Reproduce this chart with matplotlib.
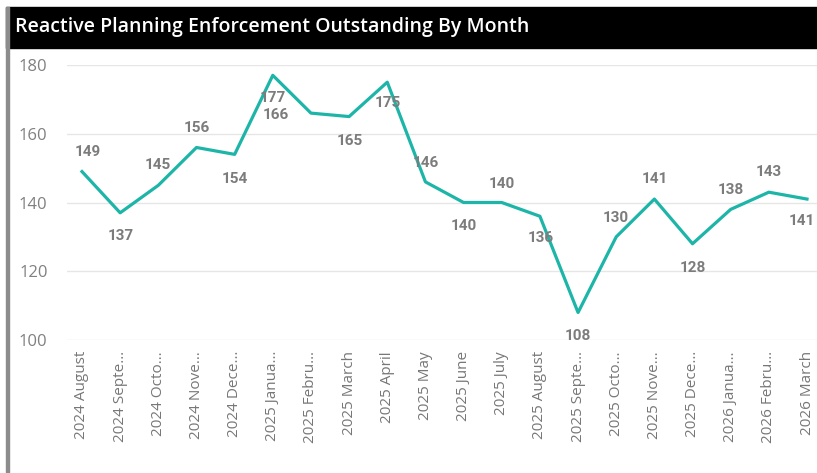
import matplotlib.pyplot as plt
from matplotlib.patches import Rectangle

W, H = 817, 473

months = [
    "2024 August", "2024 Septe…", "2024 Octo…", "2024 Nove…", "2024 Dece…",
    "2025 Janua…", "2025 Febru…", "2025 March", "2025 April", "2025 May",
    "2025 June", "2025 July", "2025 August", "2025 Septe…", "2025 Octo…",
    "2025 Nove…", "2025 Dece…", "2026 Janua…", "2026 Febru…", "2026 March",
]
outstanding = [149, 137, 145, 156, 154, 177, 166, 165, 175, 146,
               140, 140, 136, 108, 130, 141, 128, 138, 143, 141]
y_ticks = [100, 120, 140, 160, 180]

# data label offsets in pixels (dx, dy), dy positive = up
label_offsets = [
    (6, 20), (1, -23), (-1, 20), (0, 20), (0, -25),
    (0, -23), (-35, -2), (1, -24), (1, -21), (0, 19),
    (0, -23), (0, 19), (1, -22), (0, -23), (0, 19),
    (0, 20), (0, -24), (0, 19), (0, 20), (-5, -22),
]

TEAL = "#1db5a8"
GREY = "#7c7c7c"

fig = plt.figure(figsize=(W / 100, H / 100), dpi=100)
fig.patch.set_facecolor("white")

# title bar and left border
fig.patches.append(Rectangle((6 / W, 1 - 48 / H), 1 - 6 / W, 41 / H,
                             transform=fig.transFigure, color="black", zorder=0))
fig.patches.append(Rectangle((6 / W, 0), 2.5 / W, 1 - 7 / H,
                             transform=fig.transFigure, color="#8c8c8c", zorder=0))
fig.text(15 / W, 1 - 27 / H, "Reactive Planning Enforcement Outstanding By Month",
         color="white", fontsize=14, fontweight="semibold", family="Open Sans",
         va="center", ha="left")

ax = fig.add_axes([67 / W, (H - 340) / H, 750 / W, 275 / H])
x = list(range(len(outstanding)))
step = 38.16
ax.set_xlim(-15 / step, len(x) - 1 + 10 / step)
ax.set_ylim(100, 180)

ax.plot(x, outstanding, color=TEAL, linewidth=2.3, clip_on=False, zorder=3)

for xi, val, (dx, dy) in zip(x, outstanding, label_offsets):
    ax.annotate(str(val), (xi, val), xytext=(dx, dy), textcoords="offset pixels",
                ha="center", va="center", fontsize=11, fontweight="bold",
                color=GREY, family="Roboto", zorder=4)

ax.set_yticks(y_ticks)
ax.set_xticks(x)
ax.set_xticklabels(months, rotation=90, va="top", ha="center")
ax.grid(axis="y", color="#e6e6e6", linewidth=1)
ax.set_axisbelow(True)
ax.tick_params(axis="y", length=0, pad=14, labelsize=12, labelcolor="#808080")
ax.tick_params(axis="x", length=0, pad=8, labelsize=11, labelcolor="#777777")
for lbl in ax.get_xticklabels() + ax.get_yticklabels():
    lbl.set_family("Open Sans")
for s in ax.spines.values():
    s.set_visible(False)

fig.savefig("out.png", dpi=100)
